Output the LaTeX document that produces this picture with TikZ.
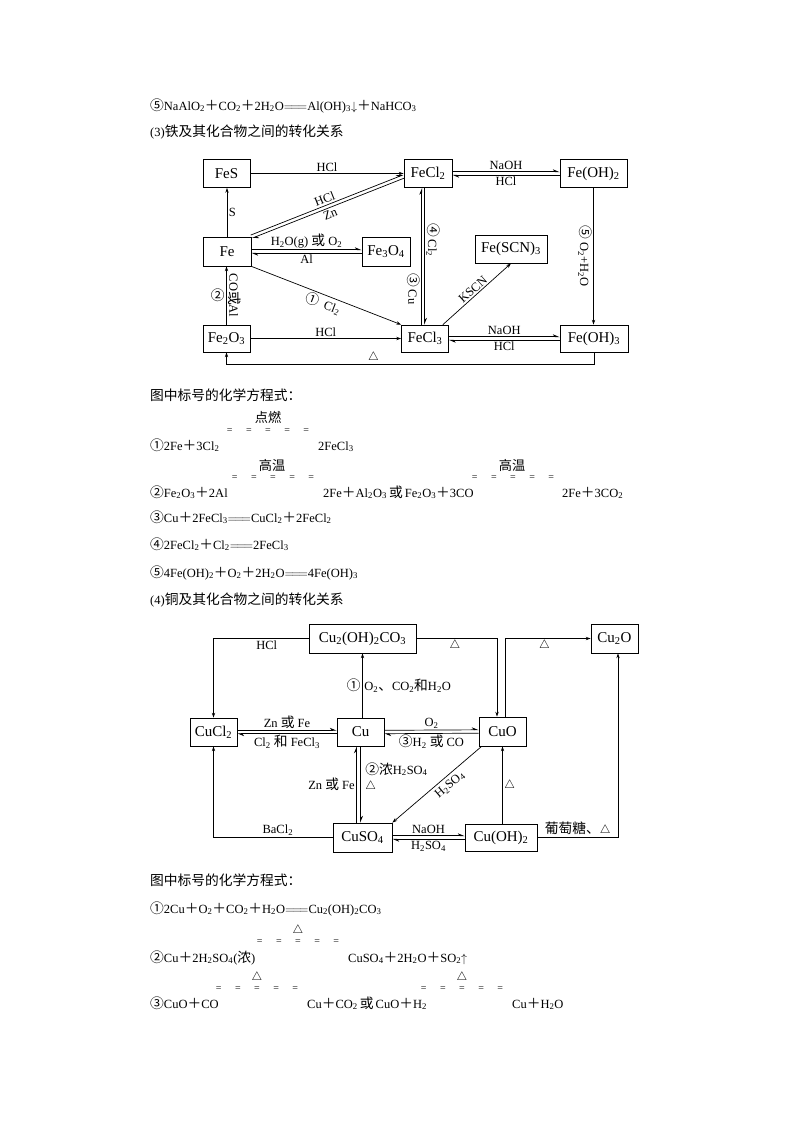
\documentclass[tikz,border=0pt]{standalone}
\usepackage{fontspec}
\setmainfont{Liberation Serif}
\newfontfamily\cjk[Scale=1.1]{Noto Sans CJK SC}
\usetikzlibrary{arrows.meta,positioning,calc}
\newcommand{\sbs}[1]{\textsubscript{#1}}
\newcommand{\zh}[1]{{\cjk #1}}
\newcommand{\eqq}{\ensuremath{=\joinrel=\joinrel=}}
\newcommand{\gapeq}{=\hspace{13.5pt}=\hspace{13.5pt}=\hspace{13.5pt}=\hspace{13.5pt}=}

\begin{document}
\begin{tikzpicture}[x=1pt,y=-1pt,
  box/.style={draw,line width=0.7pt,minimum height=28,inner sep=1pt,font=\fontsize{15}{15}\selectfont},
  lab/.style={font=\fontsize{12.5}{13}\selectfont,inner sep=1.5pt},
  arr/.style={line width=0.7pt,-{Stealth[length=5pt,width=3.4pt]}},
  harp/.style={line width=0.7pt,-{Stealth[length=6pt,width=5pt,harpoon]}},
  txt/.style={anchor=base west,inner sep=0pt,font=\fontsize{12.5}{14}\selectfont},
  cnd/.style={inner sep=0pt,font=\fontsize{12}{13}\selectfont},
  brk/.style={inner sep=0pt,font=\fontsize{10}{11}\selectfont}]
\fill[white] (0,0) rectangle (800,1132);
\useasboundingbox (0,0) rectangle (800,1132);

% text above the iron diagram
\node[txt] (l1) at (150,110) {\zh{⑤}NaAlO\sbs{2}\zh{＋}CO\sbs{2}\zh{＋}2H\sbs{2}O\eqq Al(OH)\sbs{3}$\downarrow$\zh{＋}NaHCO\sbs{3}};
\node[txt] (h3) at (150,136) {(3)\zh{铁及其化合物之间的转化关系}};

% iron boxes
\node[box,minimum width=47] (FeS) at (226.5,173.5) {FeS};
\node[box,minimum width=48] (FeCl2) at (428,173.5) {FeCl\sbs{2}};
\node[box,minimum width=67] (FeOH2) at (593.5,173.5) {Fe(OH)\sbs{2}};
\node[box,minimum width=48,minimum height=29] (Fe) at (227,251.5) {Fe};
\node[box,minimum width=48,minimum height=29] (Fe3O4) at (386,251.5) {Fe\sbs{3}O\sbs{4}};
\node[box,minimum width=72] (FeSCN3) at (511,249) {Fe(SCN)\sbs{3}};
\node[box,minimum width=47,minimum height=27] (Fe2O3) at (226.5,338.5) {Fe\sbs{2}O\sbs{3}};
\node[box,minimum width=47,minimum height=27] (FeCl3) at (425,338.5) {FeCl\sbs{3}};
\node[box,minimum width=68,minimum height=27] (FeOH3) at (594,338.5) {Fe(OH)\sbs{3}};

% iron arrows
\draw[arr] (FeS) -- node[lab,above]{HCl} (FeCl2);
\draw[arr] (Fe.north) -- node[lab,right]{S} (Fe.north |- FeS.south);
\coordinate (a1) at (Fe.north east);
\coordinate (b1) at ([yshift=-3pt]FeCl2.west);
\draw[harp] ($(a1)!1.7pt!90:(b1)$) -- node[lab,sloped,above]{HCl} ($(b1)!1.7pt!-90:(a1)$);
\draw[harp] ($(b1)!1.7pt!90:(a1)$) -- node[lab,sloped,below]{Zn} ($(a1)!1.7pt!-90:(b1)$);
\draw[harp] ([yshift=1.7pt]Fe.east) -- node[lab,above]{H\sbs{2}O(g) \zh{或} O\sbs{2}} ([yshift=1.7pt]Fe3O4.west);
\draw[harp] ([yshift=-1.7pt]Fe3O4.west) -- node[lab,below]{Al} ([yshift=-1.7pt]Fe.east);
\draw[arr] (Fe2O3.north) -- node[lab,left]{\zh{②}} node[lab,rotate=-90,anchor=south]{CO\zh{或}Al} (Fe2O3.north |- Fe.south);
\draw[arr] (Fe.south east) -- node[lab,sloped,below]{\zh{①}\ \ Cl\sbs{2}} (FeCl3.north west);
\draw[arr] (Fe2O3) -- node[lab,above]{HCl} (FeCl3);
\draw[arr] (FeOH3.south) -- ++(0,12) -| node[lab,pos=0.3,above]{$\triangle$} (Fe2O3.south);
\draw[harp] ([xshift=-3.2pt]FeCl3.north) -- node[lab,rotate=-90,anchor=north,pos=0.24,xshift=-3pt]{\zh{③} Cu} ([xshift=-6.2pt]FeCl2.south);
\draw[harp] ([xshift=-3.5pt]FeCl2.south) -- node[lab,rotate=-90,anchor=south,pos=0.38]{\zh{④} Cl\sbs{2}} ([xshift=-0.5pt]FeCl3.north);
\draw[arr] ([xshift=-6pt]FeCl3.north east) -- node[lab,sloped,above]{KSCN} (FeSCN3.south);
\draw[harp] ([yshift=1.7pt]FeCl2.east) -- node[lab,above]{NaOH} ([yshift=1.7pt]FeOH2.west);
\draw[harp] ([yshift=-1.7pt]FeOH2.west) -- node[lab,below]{HCl} ([yshift=-1.7pt]FeCl2.east);
\draw[arr] (FeOH2.south) -- node[lab,rotate=-90,anchor=north]{\zh{⑤} O\sbs{2}+H\sbs{2}O} (FeOH2.south |- FeOH3.north);
\draw[harp] ([yshift=1.7pt]FeCl3.east) -- node[lab,above]{NaOH} ([yshift=1.7pt]FeOH3.west);
\draw[harp] ([yshift=-1.7pt]FeOH3.west) -- node[lab,below]{HCl} ([yshift=-1.7pt]FeCl3.east);

% iron equations
\node[txt] (t1) at (150,400) {\zh{图中标号的化学方程式：}};
\node[cnd] (e1c) at (268,417) {\zh{点燃}};
\node[brk] (e1b) at (268,431) {\gapeq};
\node[txt] (e1a) at (150,450) {\zh{①}2Fe\zh{＋}3Cl\sbs{2}};
\node[txt] (e1d) at (318,450) {2FeCl\sbs{3}};
\node[cnd] (e2c) at (272,465) {\zh{高温}};
\node[brk] (e2b) at (273,478) {\gapeq};
\node[txt] (e2a) at (150,497) {\zh{②}Fe\sbs{2}O\sbs{3}\zh{＋}2Al};
\node[txt] (e2d) at (323,497) {2Fe\zh{＋}Al\sbs{2}O\sbs{3}\,\zh{或}\,Fe\sbs{2}O\sbs{3}\zh{＋}3CO};
\node[cnd] (e2f) at (512,465) {\zh{高温}};
\node[brk] (e2e) at (513,478) {\gapeq};
\node[txt] (e2g) at (562,497) {2Fe\zh{＋}3CO\sbs{2}};
\node[txt] (e3) at (150,522) {\zh{③}Cu\zh{＋}2FeCl\sbs{3}\eqq CuCl\sbs{2}\zh{＋}2FeCl\sbs{2}};
\node[txt] (e4) at (150,549) {\zh{④}2FeCl\sbs{2}\zh{＋}Cl\sbs{2}\eqq 2FeCl\sbs{3}};
\node[txt] (e5) at (150,577) {\zh{⑤}4Fe(OH)\sbs{2}\zh{＋}O\sbs{2}\zh{＋}2H\sbs{2}O\eqq 4Fe(OH)\sbs{3}};
\node[txt] (h4) at (150,604) {(4)\zh{铜及其化合物之间的转化关系}};

% copper boxes
\node[box,minimum width=107,minimum height=29] (CuCO3) at (362.5,638.5) {Cu\sbs{2}(OH)\sbs{2}CO\sbs{3}};
\node[box,minimum width=47,minimum height=29] (Cu2O) at (614.5,638.5) {Cu\sbs{2}O};
\node[box,minimum width=47] (CuCl2) at (213.5,732) {CuCl\sbs{2}};
\node[box,minimum width=47] (Cu) at (360.5,732) {Cu};
\node[box,minimum width=47,minimum height=29] (CuO) at (502.5,731.5) {CuO};
\node[box,minimum width=59,minimum height=29] (CuSO4) at (362.5,837.5) {CuSO\sbs{4}};
\node[box,minimum width=72,minimum height=27] (CuOH2) at (501,837.5) {Cu(OH)\sbs{2}};

% copper arrows
\draw[arr] (CuCO3.west) -| node[lab,pos=0.22,below]{HCl} (CuCl2.north);
\draw[arr] (CuCO3.east) -| node[lab,pos=0.24,below]{$\triangle$} ([xshift=-5.5pt]CuO.north);
\draw[arr] ([xshift=2.5pt]CuO.north) |- node[lab,pos=0.73,below]{$\triangle$} (Cu2O.west);
\draw[arr] (CuCO3.south |- Cu.north) -- node[lab,left]{\zh{①}} node[lab,right]{O\sbs{2}\zh{、}CO\sbs{2}\zh{和}H\sbs{2}O} (CuCO3.south);
\draw[harp] ([yshift=1.7pt]CuCl2.east) -- node[lab,above]{Zn \zh{或} Fe} ([yshift=1.7pt]Cu.west);
\draw[harp] ([yshift=-1.7pt]Cu.west) -- node[lab,below]{Cl\sbs{2} \zh{和} FeCl\sbs{3}} ([yshift=-1.7pt]CuCl2.east);
\draw[harp] ([yshift=1.7pt]Cu.east) -- node[lab,above]{O\sbs{2}} ([yshift=1.7pt]CuO.west);
\draw[harp] ([yshift=-1.7pt]CuO.west) -- node[lab,below]{\zh{③}H\sbs{2} \zh{或} CO} ([yshift=-1.7pt]Cu.east);
\draw[harp] ([xshift=-6pt]CuSO4.north) -- node[lab,left]{Zn \zh{或} Fe} ([xshift=-4pt]Cu.south);
\draw[harp] (Cu.south) -- node[lab,right,pos=0.3,xshift=3pt]{\zh{②浓}H\sbs{2}SO\sbs{4}} node[lab,right,pos=0.53,xshift=3pt]{$\triangle$} ([xshift=-2pt]CuSO4.north);
\draw[arr] (CuSO4.west) -| node[lab,pos=0.23,above]{BaCl\sbs{2}} (CuCl2.south);
\draw[arr] ([xshift=3pt]CuO.south west) -- node[lab,sloped,below=2pt,pos=0.42]{H\sbs{2}SO\sbs{4}} (CuSO4.north east);
\draw[harp] ([yshift=1.7pt]CuSO4.east) -- node[lab,above]{NaOH} ([yshift=1.7pt]CuOH2.west);
\draw[harp] ([yshift=-1.7pt]CuOH2.west) -- node[lab,below]{H\sbs{2}SO\sbs{4}} ([yshift=-1.7pt]CuSO4.east);
\draw[arr] (CuO.south |- CuOH2.north) -- node[lab,right]{$\triangle$} (CuO.south);
\draw[arr] (CuOH2.east) -| node[lab,pos=0.25,above]{\zh{葡萄糖、}$\triangle$} ([xshift=3.5pt]Cu2O.south);

% copper equations
\node[txt] (t2) at (150,885) {\zh{图中标号的化学方程式：}};
\node[txt] (c1) at (150,913) {\zh{①}2Cu\zh{＋}O\sbs{2}\zh{＋}CO\sbs{2}\zh{＋}H\sbs{2}O\eqq Cu\sbs{2}(OH)\sbs{2}CO\sbs{3}};
\node[cnd] (c2c) at (298,930) {$\triangle$};
\node[brk] (c2b) at (298,942) {\gapeq};
\node[txt] (c2a) at (150,962) {\zh{②}Cu\zh{＋}2H\sbs{2}SO\sbs{4}(\zh{浓})};
\node[txt] (c2d) at (348,962) {CuSO\sbs{4}\zh{＋}2H\sbs{2}O\zh{＋}SO\sbs{2}$\uparrow$};
\node[cnd] (c3c) at (257,977) {$\triangle$};
\node[brk] (c3b) at (257,989) {\gapeq};
\node[txt] (c3a) at (150,1008) {\zh{③}CuO\zh{＋}CO};
\node[txt] (c3d) at (307,1008) {Cu\zh{＋}CO\sbs{2}\,\zh{或}\,CuO\zh{＋}H\sbs{2}};
\node[cnd] (c3f) at (462,977) {$\triangle$};
\node[brk] (c3e) at (462,989) {\gapeq};
\node[txt] (c3g) at (512,1008) {Cu\zh{＋}H\sbs{2}O};
\end{tikzpicture}
\end{document}
